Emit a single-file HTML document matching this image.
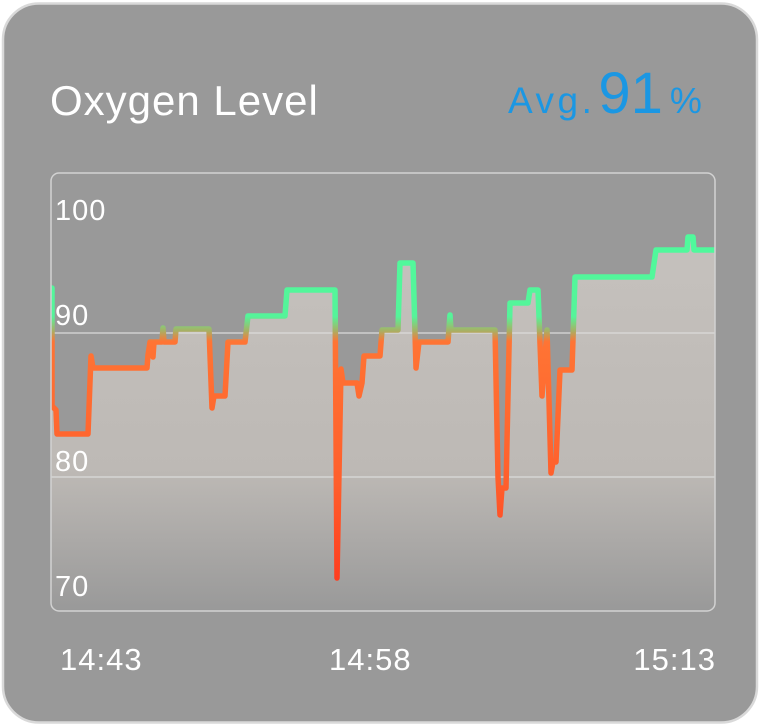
<!DOCTYPE html>
<html>
<head>
<meta charset="utf-8">
<style>
html,body{margin:0;padding:0;background:#fff;}
svg{display:block;}
text{font-family:"Liberation Sans",sans-serif;}
</style>
</head>
<body>
<svg width="760" height="725" viewBox="0 0 760 725" xmlns="http://www.w3.org/2000/svg">
  <defs>
    <linearGradient id="fillg" gradientUnits="userSpaceOnUse" x1="0" y1="240" x2="0" y2="611">
      <stop offset="0" stop-color="#c5c1bd"/>
      <stop offset="0.62" stop-color="#bdb9b5"/>
      <stop offset="1" stop-color="#999999"/>
    </linearGradient>
    <linearGradient id="lineg" gradientUnits="userSpaceOnUse" x1="0" y1="230" x2="0" y2="590">
      <stop offset="0" stop-color="#4ffa9c"/>
      <stop offset="0.24" stop-color="#55f49a"/>
      <stop offset="0.28" stop-color="#a8b064"/>
      <stop offset="0.31" stop-color="#ff7434"/>
      <stop offset="0.7" stop-color="#ff5f2c"/>
      <stop offset="1" stop-color="#ff3a1e"/>
    </linearGradient>
    <clipPath id="cbox">
      <rect x="51" y="173" width="664" height="438" rx="8" ry="8"/>
    </clipPath>
  </defs>

  <!-- card -->
  <rect x="3" y="3.5" width="754" height="719" rx="36" ry="36" fill="#999999" stroke="#d9d9d9" stroke-width="2.5"/>

  <!-- title -->
  <text x="50" y="115" font-size="42" fill="#ffffff" letter-spacing="1">Oxygen Level</text>
  <text x="508" y="113" fill="#1b97e3">
    <tspan font-size="37" letter-spacing="3.5">Avg.</tspan><tspan font-size="58" dx="3" font-weight="normal">91</tspan><tspan font-size="36" dx="7">%</tspan>
  </text>

  <!-- chart area -->
  <g clip-path="url(#cbox)">
    <path fill="url(#fillg)" d="M52,288 L52,407 L53,407 L56,410 L57,434 L88,434 L91,356 L93,368 L147,368 L148,355 L150,342 L152,342 L153,357 L154,342 L162,342 L163,328 L164,342 L175,342 L176,329 L209,329 L212,408 L214,396 L225,396 L228,342 L245,342 L248,316 L285,316 L287,290 L335,290 L337,578 L341,369 L343,383 L357,383 L359,396 L362,383 L364,356 L380,356 L382,330 L398,330 L400,263 L413,263 L416,368 L419,342 L448,342 L450,315 L451,330 L495,330 L498,477 L500,515 L502,488 L506,488 L510,303 L528,303 L530,290 L538,290 L542,396 L547,330 L551,473 L553,462 L556,462 L560,370 L572,370 L575,277 L652,277 L656,250 L687,250 L688,237 L693,237 L694,250 L716,250 L716,612 L50,612 L50,288 Z"/>
    <line x1="51" y1="333" x2="715" y2="333" stroke="#dcdcdc" stroke-opacity="0.8" stroke-width="1.5"/>
    <line x1="51" y1="477" x2="715" y2="477" stroke="#dcdcdc" stroke-opacity="0.8" stroke-width="1.5"/>
    <path fill="none" stroke="url(#lineg)" stroke-width="5.5" stroke-linejoin="round" stroke-linecap="round" d="M52,288 L52,407 L53,407 L56,410 L57,434 L88,434 L91,356 L93,368 L147,368 L148,355 L150,342 L152,342 L153,357 L154,342 L162,342 L163,328 L164,342 L175,342 L176,329 L209,329 L212,408 L214,396 L225,396 L228,342 L245,342 L248,316 L285,316 L287,290 L335,290 L337,578 L341,369 L343,383 L357,383 L359,396 L362,383 L364,356 L380,356 L382,330 L398,330 L400,263 L413,263 L416,368 L419,342 L448,342 L450,315 L451,330 L495,330 L498,477 L500,515 L502,488 L506,488 L510,303 L528,303 L530,290 L538,290 L542,396 L547,330 L551,473 L553,462 L556,462 L560,370 L572,370 L575,277 L652,277 L656,250 L687,250 L688,237 L693,237 L694,250 L716,250"/>
  </g>
  <rect x="51" y="173" width="664" height="438" rx="8" ry="8" fill="none" stroke="#d2d2d2" stroke-width="1.5"/>

  <!-- y labels -->
  <g fill="#ffffff" font-size="29" letter-spacing="1">
    <text x="55" y="220">100</text>
    <text x="55" y="325">90</text>
    <text x="55" y="471">80</text>
    <text x="55" y="596">70</text>
  </g>

  <!-- x labels -->
  <g fill="#ffffff" font-size="31" letter-spacing="1">
    <text x="60" y="670">14:43</text>
    <text x="329" y="670">14:58</text>
    <text x="716" y="670" text-anchor="end">15:13</text>
  </g>
</svg>
</body>
</html>
